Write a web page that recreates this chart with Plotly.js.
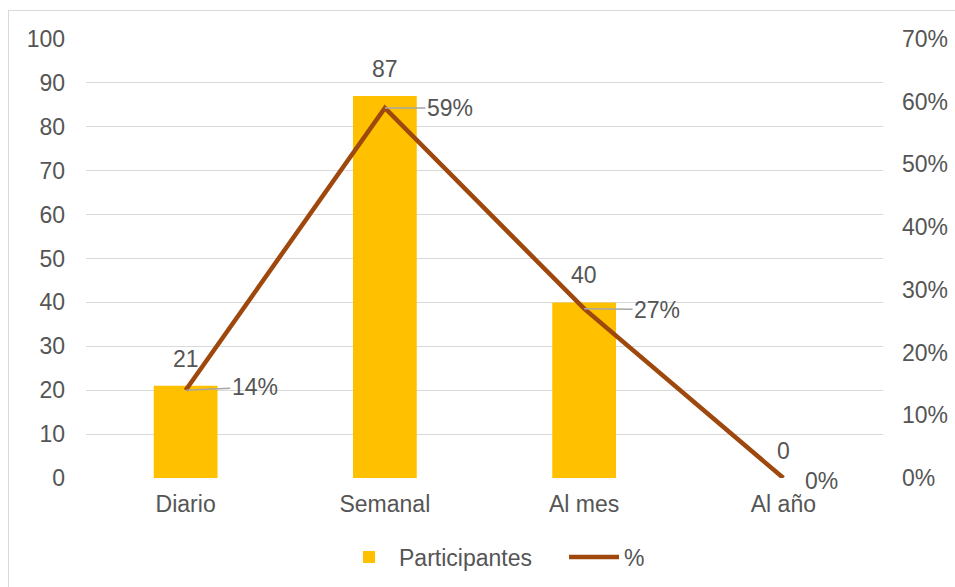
<!DOCTYPE html>
<html>
<head>
<meta charset="utf-8">
<script src="https://cdn.plot.ly/plotly-3.0.1.min.js"></script>
<style>
  html, body { margin: 0; padding: 0; background: #ffffff; }
  #wrap { position: relative; width: 955px; height: 587px; overflow: hidden; }
  #chart { width: 955px; height: 587px; }
  #frame { position: absolute; left: 8px; top: 10px; width: 970px; height: 600px;
           border: 1.5px solid #d9d9d9; pointer-events: none; box-sizing: border-box; }
</style>
</head>
<body>
<div id="wrap">
  <div id="chart"></div>
  <div id="frame"></div>
</div>
<script>
// Frecuencia de uso: participantes por categoría y porcentaje
const categories = ["Diario", "Semanal", "Al mes", "Al año"];
const participantes = [21, 87, 40, 0];
const porcentaje = [0.14, 0.59, 0.27, 0.00];
const pctLabels = ["14%", "59%", "27%", "0%"];

// Label offsets (pixels) for the percentage callouts
const pctOffsets = [[69, -3], [65, 0], [73, 1], [38, 3]];

const textColor = "#555555";
const fontFamily = "Liberation Sans, Arial, sans-serif";
const fontSize = 23;

const barTrace = {
  type: "bar",
  name: "Participantes",
  x: categories,
  y: participantes,
  marker: { color: "#FFC000" },
  width: 0.32,
  yaxis: "y",
  hoverinfo: "x+y"
};

const lineTrace = {
  type: "scatter",
  mode: "lines",
  name: "%",
  x: categories,
  y: porcentaje,
  line: { color: "#9E480E", width: 4.5 },
  yaxis: "y2"
};

const annotations = [];
categories.forEach((c, i) => {
  annotations.push({
    x: c, y: participantes[i], xref: "x", yref: "y",
    text: String(participantes[i]), showarrow: false,
    yanchor: "middle", yshift: 27,
    font: { family: fontFamily, size: fontSize, color: textColor }
  });
  const [ax, ay] = pctOffsets[i];
  annotations.push({
    x: c, y: porcentaje[i], xref: "x", yref: "y2",
    text: pctLabels[i],
    showarrow: porcentaje[i] > 0,
    arrowhead: 0, arrowwidth: 1.5, arrowcolor: "#a6a6a6",
    ax: ax, ay: ay, axref: "pixel", ayref: "pixel",
    xshift: porcentaje[i] > 0 ? 0 : ax,
    yshift: porcentaje[i] > 0 ? 0 : -ay,
    font: { family: fontFamily, size: fontSize, color: textColor }
  });
});

const layout = {
  width: 955,
  height: 587,
  margin: { l: 86, r: 72, t: 39, b: 109, autoexpand: false },
  paper_bgcolor: "#ffffff",
  plot_bgcolor: "#ffffff",
  font: { family: fontFamily, size: fontSize, color: textColor },
  showlegend: true,
  legend: {
    orientation: "h",
    x: 0.355, xanchor: "left", xref: "container",
    y: 0.051, yanchor: "middle", yref: "container",
    entrywidth: 160,
    itemwidth: 50,
    font: { family: fontFamily, size: fontSize, color: textColor },
    traceorder: "normal"
  },
  xaxis: {
    type: "category",
    range: [-0.5, 3.5],
    showgrid: false,
    showline: false,
    zeroline: false,
    ticks: "",
    ticklabelstandoff: 10,
    tickfont: { family: fontFamily, size: fontSize, color: textColor }
  },
  yaxis: {
    range: [0, 100],
    dtick: 10,
    showgrid: true,
    gridcolor: "#d9d9d9",
    gridwidth: 1,
    zeroline: false,
    showline: false,
    ticks: "",
    ticklabelstandoff: 20,
    tickfont: { family: fontFamily, size: fontSize, color: textColor }
  },
  yaxis2: {
    overlaying: "y",
    side: "right",
    range: [0, 0.7],
    dtick: 0.1,
    tickformat: ".0%",
    showgrid: false,
    zeroline: false,
    showline: false,
    ticks: "",
    ticklabelstandoff: 18,
    tickfont: { family: fontFamily, size: fontSize, color: textColor }
  },
  annotations: annotations
};

Plotly.newPlot("chart", [barTrace, lineTrace], layout, { staticPlot: true, displayModeBar: false });
</script>
</body>
</html>
